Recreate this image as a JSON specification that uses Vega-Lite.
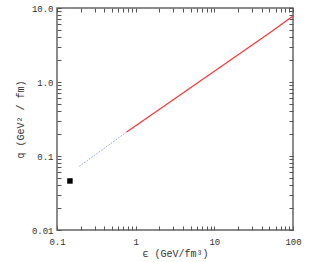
{
  "$schema": "https://vega.github.io/schema/vega-lite/v6.json",
  "width": 236,
  "height": 222,
  "autosize": {"type": "none"},
  "padding": {"left": 57, "top": 8, "right": 16, "bottom": 32},
  "background": "white",
  "config": {
    "view": {"stroke": "#666666", "strokeWidth": 1.5},
    "axis": {
      "domain": false,
      "grid": false,
      "labelFont": "Liberation Mono",
      "labelFontSize": 9,
      "labelColor": "#333333",
      "titleFont": "Liberation Mono",
      "titleFontSize": 10,
      "titleFontWeight": "normal",
      "titleColor": "#333333"
    }
  },
  "datasets": {
    "square": [{"e": 0.146, "q": 0.046}],
    "blue": [{"e": 0.192, "q": 0.0726}, {"e": 0.78, "q": 0.213}],
    "red": [{"e": 0.769, "q": 0.211}, {"e": 2.73, "q": 0.537}, {"e": 50.8, "q": 4.64}, {"e": 100, "q": 7.8}]
  },
  "layer": [
    {
      "data": {"name": "square"},
      "mark": {"type": "square", "size": 30, "color": "black", "opacity": 1, "filled": true},
      "encoding": {
        "x": {
          "field": "e", "type": "quantitative",
          "scale": {"type": "log", "domain": [0.1, 100], "nice": false},
          "axis": {
            "orient": "bottom",
            "title": "ϵ (GeV/fm³)",
            "titlePadding": 2,
            "values": [0.1,0.2,0.3,0.4,0.5,0.6,0.7,0.8,0.9,1,2,3,4,5,6,7,8,9,10,20,30,40,50,60,70,80,90,100],
            "labelExpr": "abs(log(datum.value)/LN10 - round(log(datum.value)/LN10)) < 0.001 ? datum.label : ''",
            "format": "~g",
            "ticks": true,
            "tickColor": "#555555",
            "tickWidth": 1,
            "tickSize": -4,
            "labelPadding": 11,
            "labelFlush": false
          }
        },
        "y": {
          "field": "q", "type": "quantitative",
          "scale": {"type": "log", "domain": [0.01, 10], "nice": false},
          "axis": {
            "orient": "left",
            "title": "q  (GeV² / fm)",
            "titlePadding": 6,
            "values": [0.01,0.02,0.03,0.04,0.05,0.06,0.07,0.08,0.09,0.1,0.2,0.3,0.4,0.5,0.6,0.7,0.8,0.9,1,2,3,4,5,6,7,8,9,10],
            "labelExpr": "abs(log(datum.value)/LN10 - round(log(datum.value)/LN10)) < 0.001 ? (datum.value < 0.05 ? '0.01' : format(datum.value, '.1f')) : ''",
            "ticks": true,
            "tickColor": "#555555",
            "tickWidth": 1,
            "tickSize": -4,
            "labelPadding": 8,
            "labelFlush": false
          }
        }
      }
    },
    {
      "data": {"name": "blue"},
      "mark": {"type": "line", "color": "#8f9cff", "strokeWidth": 1, "strokeDash": [1.5, 1.5]},
      "encoding": {
        "x": {"field": "e", "type": "quantitative",
          "axis": {
            "orient": "top", "title": null, "labels": false,
            "values": [0.1,0.2,0.3,0.4,0.5,0.6,0.7,0.8,0.9,1,2,3,4,5,6,7,8,9,10,20,30,40,50,60,70,80,90,100],
            "ticks": true,
            "tickColor": "#555555",
            "tickWidth": 1,
            "tickSize": -4
          }},
        "y": {"field": "q", "type": "quantitative",
          "axis": {
            "orient": "right", "title": null, "labels": false,
            "values": [0.01,0.02,0.03,0.04,0.05,0.06,0.07,0.08,0.09,0.1,0.2,0.3,0.4,0.5,0.6,0.7,0.8,0.9,1,2,3,4,5,6,7,8,9,10],
            "ticks": true,
            "tickColor": "#555555",
            "tickWidth": 1,
            "tickSize": -4
          }}
      }
    },
    {
      "data": {"name": "red"},
      "mark": {"type": "line", "color": "#ff3333", "strokeWidth": 1.2},
      "encoding": {
        "x": {"field": "e", "type": "quantitative", "axis": null},
        "y": {"field": "q", "type": "quantitative", "axis": null}
      }
    }
  ],
  "resolve": {"axis": {"x": "independent", "y": "independent"}}
}
